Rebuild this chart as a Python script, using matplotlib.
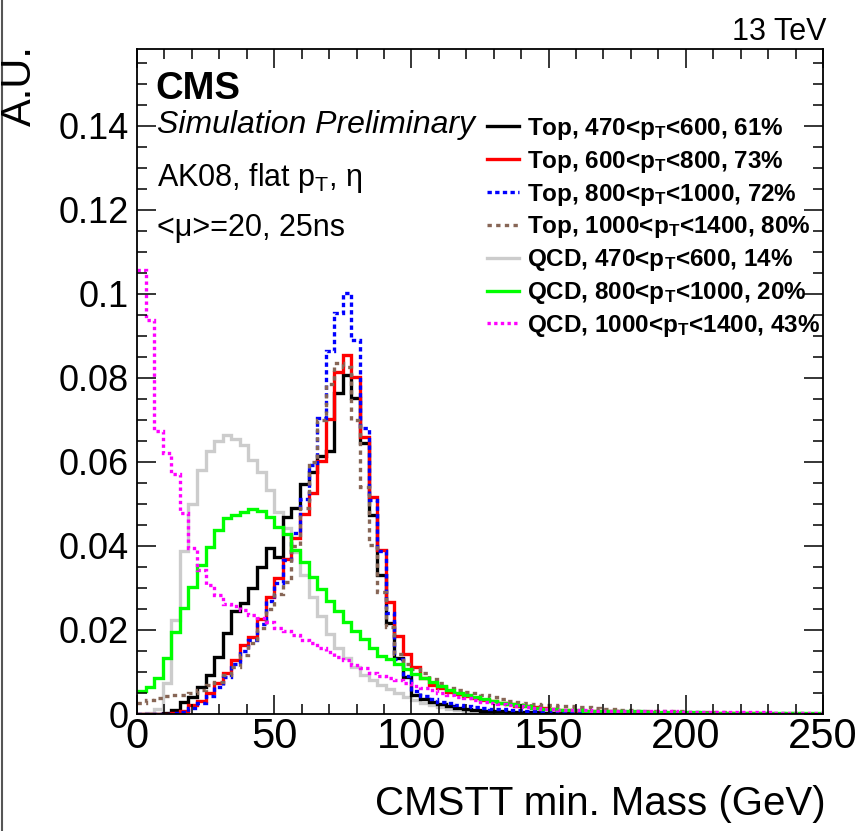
"""CMSTT min. mass for top and QCD jets in several pT bins (CMS simulation)."""
import numpy as np
import matplotlib
matplotlib.use("Agg")
import matplotlib.pyplot as plt
from matplotlib.ticker import MultipleLocator
from matplotlib.lines import Line2D

plt.rcParams["font.family"] = ["Liberation Sans", "DejaVu Sans"]
plt.rcParams["mathtext.fontset"] = "custom"
plt.rcParams["mathtext.rm"] = "Liberation Sans"
plt.rcParams["mathtext.it"] = "Liberation Sans:italic"
plt.rcParams["mathtext.bf"] = "Liberation Sans:bold"

# 80 bins of 3.125 GeV over 0-250 GeV
bin_edges = np.linspace(0, 250, 81)

top_470_600 = [
    0.0, 0.0, 0.0001, 0.0003, 0.0010, 0.0029, 0.0041, 0.0065, 0.0093, 0.0136,
    0.0192, 0.0244, 0.0265, 0.0299, 0.0351, 0.0394, 0.0373, 0.0468, 0.0490, 0.0548,
    0.0575, 0.0615, 0.0625, 0.0763, 0.0807, 0.0752, 0.0644, 0.0474, 0.0331, 0.0216,
    0.0133, 0.0088, 0.0045, 0.0035, 0.0029, 0.0024, 0.0018, 0.0014, 0.0011, 0.0009,
    0.0008, 0.0007, 0.0006, 0.0005, 0.0005, 0.0004, 0.0004, 0.0003, 0.0003, 0.0003,
    0.0002, 0.0002, 0.0002, 0.0002, 0.0002, 0.0002, 0.0002, 0.0002, 0.0002, 0.0002,
    0.0001, 0.0001, 0.0001, 0.0001, 0.0001, 0.0001, 0.0001, 0.0001, 0.0001, 0.0001,
    0.0001, 0.0001, 0.0001, 0.0001, 0.0001, 0.0001, 0.0001, 0.0001, 0.0001, 0.0001,
]
top_600_800 = [
    0.0, 0.0, 0.0, 0.0001, 0.0003, 0.0007, 0.0021, 0.0030, 0.0050, 0.0073,
    0.0097, 0.0129, 0.0165, 0.0184, 0.0226, 0.0279, 0.0323, 0.0370, 0.0420, 0.0476,
    0.0525, 0.0603, 0.0702, 0.0815, 0.0855, 0.0803, 0.0660, 0.0517, 0.0390, 0.0267,
    0.0186, 0.0143, 0.0113, 0.0085, 0.0070, 0.0061, 0.0053, 0.0047, 0.0042, 0.0038,
    0.0034, 0.0030, 0.0026, 0.0023, 0.0020, 0.0018, 0.0016, 0.0014, 0.0012, 0.0010,
    0.0009, 0.0008, 0.0008, 0.0007, 0.0006, 0.0006, 0.0005, 0.0005, 0.0004, 0.0004,
    0.0003, 0.0003, 0.0003, 0.0003, 0.0003, 0.0002, 0.0002, 0.0002, 0.0002, 0.0002,
    0.0002, 0.0002, 0.0002, 0.0001, 0.0001, 0.0001, 0.0001, 0.0001, 0.0001, 0.0001,
]
top_800_1000 = [
    0.0, 0.0, 0.0, 0.0001, 0.0002, 0.0005, 0.0014, 0.0026, 0.0042, 0.0064,
    0.0088, 0.0118, 0.0150, 0.0176, 0.0215, 0.0268, 0.0312, 0.0367, 0.0432, 0.0512,
    0.0593, 0.0705, 0.0863, 0.0954, 0.1002, 0.0890, 0.0680, 0.0510, 0.0387, 0.0240,
    0.0130, 0.0090, 0.0055, 0.0044, 0.0036, 0.0029, 0.0025, 0.0022, 0.0019, 0.0017,
    0.0014, 0.0013, 0.0011, 0.0010, 0.0009, 0.0008, 0.0007, 0.0007, 0.0006, 0.0005,
    0.0005, 0.0004, 0.0004, 0.0003, 0.0003, 0.0003, 0.0002, 0.0002, 0.0002, 0.0002,
    0.0002, 0.0002, 0.0002, 0.0002, 0.0002, 0.0001, 0.0001, 0.0001, 0.0001, 0.0001,
    0.0001, 0.0001, 0.0001, 0.0001, 0.0001, 0.0001, 0.0001, 0.0001, 0.0001, 0.0001,
]
top_1000_1400 = [
    0.0027, 0.0034, 0.0039, 0.0042, 0.0045, 0.0045, 0.0049, 0.0057, 0.0069, 0.0077,
    0.0093, 0.0113, 0.0140, 0.0168, 0.0205, 0.0250, 0.0285, 0.0315, 0.0400, 0.0490,
    0.0600, 0.0700, 0.0785, 0.0835, 0.0825, 0.0700, 0.0541, 0.0402, 0.0291, 0.0206,
    0.0142, 0.0118, 0.0107, 0.0097, 0.0083, 0.0073, 0.0063, 0.0057, 0.0053, 0.0049,
    0.0045, 0.0041, 0.0036, 0.0031, 0.0028, 0.0026, 0.0024, 0.0022, 0.0021, 0.0020,
    0.0019, 0.0017, 0.0016, 0.0015, 0.0013, 0.0011, 0.0010, 0.0009, 0.0008, 0.0008,
    0.0007, 0.0007, 0.0006, 0.0006, 0.0005, 0.0005, 0.0004, 0.0004, 0.0004, 0.0003,
    0.0003, 0.0003, 0.0003, 0.0002, 0.0002, 0.0002, 0.0002, 0.0002, 0.0001, 0.0001,
]
qcd_470_600 = [
    0.0, 0.0003, 0.0012, 0.0073, 0.0224, 0.0388, 0.0499, 0.0581, 0.0625, 0.0651,
    0.0663, 0.0655, 0.0640, 0.0605, 0.0577, 0.0533, 0.0480, 0.0442, 0.0386, 0.0331,
    0.0279, 0.0234, 0.0190, 0.0158, 0.0133, 0.0113, 0.0093, 0.0081, 0.0069, 0.0059,
    0.0051, 0.0041, 0.0033, 0.0027, 0.0021, 0.0016, 0.0013, 0.0010, 0.0007, 0.0006,
    0.0005, 0.0005, 0.0004, 0.0004, 0.0003, 0.0003, 0.0003, 0.0002, 0.0002, 0.0002,
    0.0002, 0.0002, 0.0002, 0.0002, 0.0002, 0.0001, 0.0001, 0.0001, 0.0001, 0.0001,
    0.0001, 0.0001, 0.0001, 0.0001, 0.0001, 0.0001, 0.0001, 0.0001, 0.0001, 0.0001,
    0.0001, 0.0001, 0.0001, 0.0001, 0.0001, 0.0001, 0.0001, 0.0001, 0.0001, 0.0001,
]
qcd_800_1000 = [
    0.0055, 0.0065, 0.0085, 0.0133, 0.0196, 0.0252, 0.0303, 0.0355, 0.0398, 0.0438,
    0.0467, 0.0474, 0.0482, 0.0487, 0.0483, 0.0470, 0.0444, 0.0428, 0.0390, 0.0361,
    0.0325, 0.0297, 0.0270, 0.0244, 0.0220, 0.0198, 0.0178, 0.0158, 0.0139, 0.0130,
    0.0119, 0.0107, 0.0095, 0.0085, 0.0076, 0.0067, 0.0057, 0.0051, 0.0045, 0.0040,
    0.0035, 0.0031, 0.0027, 0.0024, 0.0021, 0.0018, 0.0015, 0.0013, 0.0012, 0.0010,
    0.0009, 0.0009, 0.0008, 0.0008, 0.0007, 0.0007, 0.0006, 0.0006, 0.0006, 0.0005,
    0.0005, 0.0005, 0.0004, 0.0004, 0.0004, 0.0004, 0.0003, 0.0003, 0.0003, 0.0003,
    0.0003, 0.0003, 0.0002, 0.0002, 0.0002, 0.0002, 0.0002, 0.0002, 0.0002, 0.0002,
]
qcd_1000_1400 = [
    0.1056, 0.0938, 0.0673, 0.0621, 0.0571, 0.0478, 0.0394, 0.0343, 0.0307, 0.0283,
    0.0263, 0.0257, 0.0248, 0.0236, 0.0228, 0.0220, 0.0204, 0.0198, 0.0188, 0.0176,
    0.0168, 0.0157, 0.0148, 0.0136, 0.0128, 0.0117, 0.0109, 0.0098, 0.0090, 0.0085,
    0.0080, 0.0073, 0.0067, 0.0061, 0.0056, 0.0051, 0.0045, 0.0041, 0.0037, 0.0033,
    0.0029, 0.0027, 0.0024, 0.0021, 0.0019, 0.0017, 0.0014, 0.0013, 0.0011, 0.0010,
    0.0010, 0.0009, 0.0009, 0.0008, 0.0008, 0.0008, 0.0007, 0.0007, 0.0007, 0.0006,
    0.0006, 0.0006, 0.0006, 0.0005, 0.0005, 0.0005, 0.0005, 0.0005, 0.0004, 0.0004,
    0.0004, 0.0004, 0.0004, 0.0004, 0.0003, 0.0003, 0.0003, 0.0003, 0.0003, 0.0003,
]

labels = [
    r"Top, 470<$\mathbf{p}_\mathbf{T}$<600, 61%",
    r"Top, 600<$\mathbf{p}_\mathbf{T}$<800, 73%",
    r"Top, 800<$\mathbf{p}_\mathbf{T}$<1000, 72%",
    r"Top, 1000<$\mathbf{p}_\mathbf{T}$<1400, 80%",
    r"QCD, 470<$\mathbf{p}_\mathbf{T}$<600, 14%",
    r"QCD, 800<$\mathbf{p}_\mathbf{T}$<1000, 20%",
    r"QCD, 1000<$\mathbf{p}_\mathbf{T}$<1400, 43%",
]
series = [top_470_600, top_600_800, top_800_1000, top_1000_1400,
          qcd_470_600, qcd_800_1000, qcd_1000_1400]
colors = ["#000000", "#ff0000", "#0000ff", "#876656", "#cccccc", "#00ff00", "#ff00ff"]
styles = ["-", "-", (0, (1.3, 1.0)), (0, (1.3, 1.3)), "-", "-", (0, (1.0, 1.0))]
draw_order = [4, 0, 1, 2, 3, 5, 6]

x_ticks = [0, 50, 100, 150, 200, 250]
x_ticklabels = ["0", "50", "100", "150", "200", "250"]
y_ticks = [0, 0.02, 0.04, 0.06, 0.08, 0.10, 0.12, 0.14]
y_ticklabels = ["0", "0.02", "0.04", "0.06", "0.08", "0.1", "0.12", "0.14"]

W, H = 858, 831
fig = plt.figure(figsize=(W / 100, H / 100), dpi=100)
ax = fig.add_axes([137 / W, 117 / H, 686 / W, 665 / H])

handles = [None] * len(series)
for i in draw_order:
    handles[i] = ax.stairs(series[i], bin_edges, baseline=None, color=colors[i],
                           linestyle=styles[i], linewidth=2.4, label=labels[i])

ax.set_xlim(0, 250)
ax.set_ylim(0, 0.1583)
ax.set_xticks(x_ticks)
ax.set_xticklabels(x_ticklabels)
ax.set_yticks(y_ticks)
ax.set_yticklabels(y_ticklabels)
ax.xaxis.set_minor_locator(MultipleLocator(10))
ax.yaxis.set_minor_locator(MultipleLocator(0.005))
ax.tick_params(which="both", direction="in", top=True, right=True, width=1.1)
ax.tick_params(which="major", length=14)
ax.tick_params(which="minor", length=7)
ax.tick_params(axis="x", labelsize=30, pad=2)
ax.tick_params(axis="y", labelsize=26, pad=6)
for sp in ax.spines.values():
    sp.set_linewidth(1.3)

ax.legend(handles=handles, loc="upper left", bbox_to_anchor=(487 / W, (H - 116) / H),
          bbox_transform=fig.transFigure, frameon=False, borderpad=0, borderaxespad=0,
          handlelength=1.3, handletextpad=0.35, labelspacing=0.28,
          prop={"weight": "bold", "size": 17.5})

fig.text(155 / W, (H - 99) / H, "CMS", fontsize=27.5, fontweight="bold")
fig.text(157 / W, (H - 133) / H, "Simulation Preliminary", fontsize=23, style="italic")
fig.text(157 / W, (H - 186) / H, r"AK08, flat $\mathrm{p}_\mathrm{T}$, η", fontsize=22)
fig.text(157 / W, (H - 236) / H, "<μ>=20, 25ns", fontsize=22)
fig.text(826 / W, (H - 40) / H, "13 TeV", fontsize=22, ha="right")
fig.text(826 / W, (H - 815) / H, "CMSTT min. Mass (GeV)", fontsize=29, ha="right")
fig.text(20 / W, (H - 45) / H, "A.U.", fontsize=30, rotation=90, ha="center", va="top")

# thin frame line on the left edge of the canvas
fig.add_artist(Line2D([0.002, 0.002], [0, 1], transform=fig.transFigure,
                      color="#555555", linewidth=1.5))

fig.savefig("out.png", dpi=100)
